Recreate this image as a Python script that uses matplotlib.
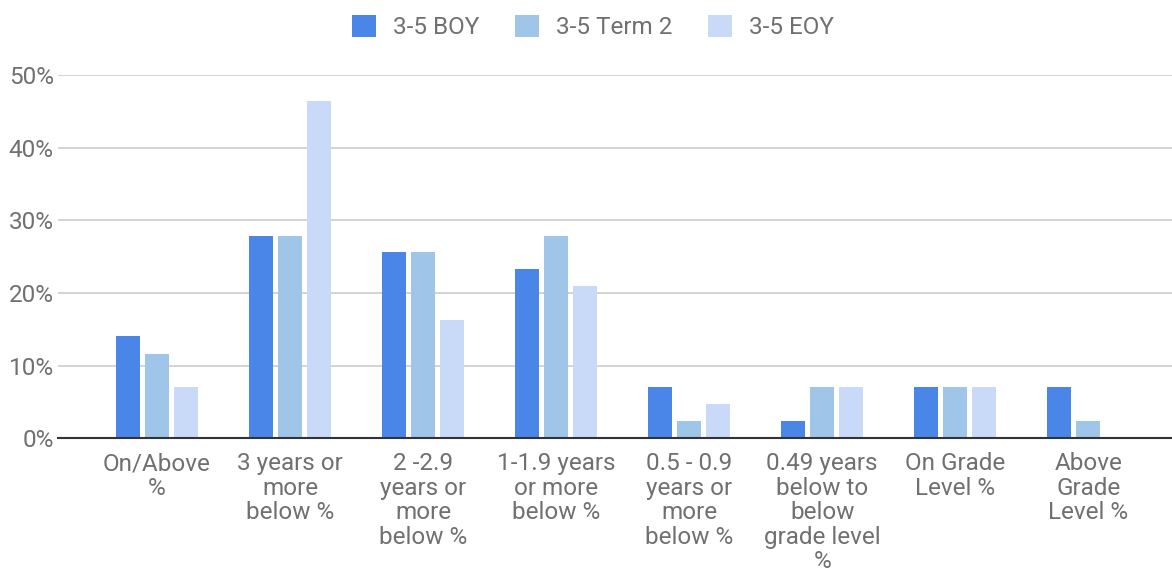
import matplotlib
matplotlib.use('Agg')
import matplotlib.pyplot as plt
import numpy as np

plt.rcParams['font.family'] = ['Roboto', 'DejaVu Sans']

# Data (percent)
categories = ['On/Above\n%', '3 years or\nmore\nbelow %', '2 -2.9\nyears or\nmore\nbelow %',
              '1-1.9 years\nor more\nbelow %', '0.5 - 0.9\nyears or\nmore\nbelow %',
              '0.49 years\nbelow to\nbelow\ngrade level\n%', 'On Grade\nLevel %',
              'Above\nGrade\nLevel %']
series_names = ['3-5 BOY', '3-5 Term 2', '3-5 EOY']
boy = [14.0, 27.9, 25.6, 23.3, 7.0, 2.3, 7.0, 7.0]
term2 = [11.6, 27.9, 25.6, 27.9, 2.3, 7.0, 7.0, 2.3]
eoy = [7.0, 46.5, 16.3, 20.9, 4.7, 7.0, 7.0, 0.0]
colors = ['#4a86e8', '#9fc5e8', '#c9daf8']

fig = plt.figure(figsize=(11.72, 5.69), dpi=100)
ax = fig.add_axes([0.0495, 0.230, 0.9505, 0.638])

x = np.arange(len(categories))
width = 0.18
step = 0.218
for i, (vals, name, col) in enumerate(zip([boy, term2, eoy], series_names, colors)):
    ax.bar(x + (i - 1) * step, vals, width, color=col, label=name, zorder=3)

ax.set_ylim(0, 50)
ax.set_xlim(-0.744, 7.63)
ax.set_yticks([0, 10, 20, 30, 40, 50])
ax.set_yticklabels(['0%', '10%', '20%', '30%', '40%', '50%'])
ax.yaxis.grid(True, color='#cccccc', linewidth=1.2, zorder=0)
ax.set_xticks(x)
ax.set_xticklabels(categories, linespacing=1.09)
ax.tick_params(axis='both', length=0, labelsize=17.5, colors='#707070')
ax.tick_params(axis='x', pad=10)
ax.tick_params(axis='y', pad=3)
for sp in ['top', 'right', 'left']:
    ax.spines[sp].set_visible(False)
ax.spines['bottom'].set_color('#333333')
ax.spines['bottom'].set_linewidth(1.5)
ax.spines['bottom'].set_zorder(4)

leg = fig.legend(loc='upper center', bbox_to_anchor=(0.506, 1.012), ncol=3, frameon=False,
                 fontsize=17.5, handlelength=1.0, handleheight=1.0, columnspacing=1.45,
                 handletextpad=0.7)
for t in leg.get_texts():
    t.set_color('#707070')

fig.savefig('out.png', dpi=100)
